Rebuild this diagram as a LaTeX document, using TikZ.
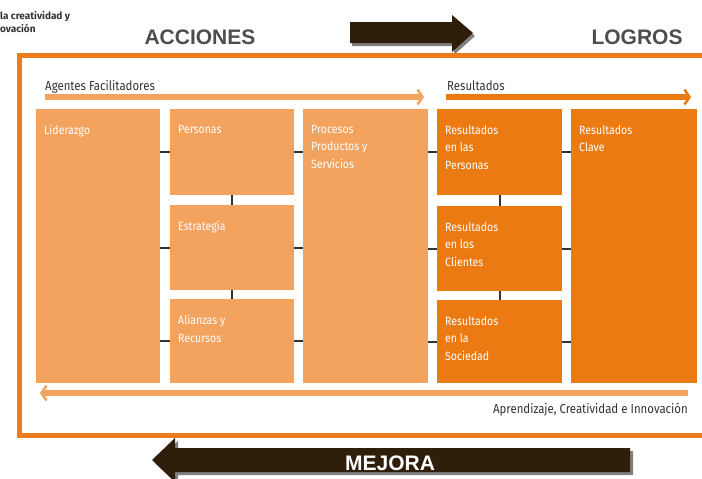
\documentclass[tikz,border=0pt]{standalone}
\usepackage{fontspec}
\setmainfont{Fira Sans}
\newfontfamily\headfont{Liberation Sans}
\newfontfamily\narrowfont[FakeStretch=0.88]{Fira Sans}
\usetikzlibrary{arrows.meta}

\definecolor{lightor}{HTML}{F3A35E}
\definecolor{darkor}{HTML}{EB7A12}
\definecolor{frameor}{HTML}{EC7C1C}
\definecolor{brownar}{HTML}{2E1E0A}
\definecolor{headgray}{HTML}{4D4D4D}

\begin{document}
\begin{tikzpicture}[x=1pt,y=-1pt,
  boxA/.style={fill=lightor,anchor=north west,inner sep=0pt,outer sep=0pt},
  boxB/.style={fill=darkor,anchor=north west,inner sep=0pt,outer sep=0pt},
  boxtxt/.style={anchor=north west,inner sep=0pt,xshift=8pt,yshift=-16pt,
    text=white,align=left,font=\narrowfont\fontsize{12}{17.5}\selectfont},
  headtxt/.style={anchor=base,inner sep=0pt,text=headgray,
    font=\headfont\bfseries\fontsize{21}{25}\selectfont},
  flowtxt/.style={inner sep=0pt,text=black!80,
    font=\narrowfont\fontsize{13}{15}\selectfont},
  tick/.style={draw=black!80,line width=2pt},
  flow/.style={line width=5.5pt,
    -{Straight Barb[length=5pt,width=15pt,line width=2.5pt]}}]

\useasboundingbox (0,0) rectangle (702,479);
\clip (0,0) rectangle (702,479);

\def\bw{124}

%====================================================
% Header
%====================================================
\node[anchor=north west,inner sep=0pt,align=left,text=black!80,
  font=\bfseries\fontsize{10}{13}\selectfont] (cut) at (0,11)
  {la creatividad y\\ovación};

\node[headtxt] (acc) at (200,45) {ACCIONES};
\node[headtxt] (log) at (637,45) {LOGROS};

% Black arrow to the right
\fill[black!50] ([shift={(2,3)}]350,22) -- ++(102,0) -- ++(0,-7)
  -- ++(21,18) -- ++(-21,19) -- ++(0,-9) -- ++(-102,0) -- cycle;
\fill[brownar] (350,22) -- (452,22) -- (452,15) -- (473,33)
  -- (452,52) -- (452,43) -- (350,43) -- cycle;

%====================================================
% Frame
%====================================================
\draw[frameor,line width=5pt] (19,55) rectangle (720,435);

% Top flows
\coordinate (agA) at (45,97);
\coordinate (agB) at (424,97);
\coordinate (reA) at (446,97);
\coordinate (reB) at (691,97);

\draw[flow,lightor] (agA) -- (agB);
\draw[flow,darkor] (reA) -- (reB);
\node[flowtxt,anchor=base west] (agT) at (45,90) {Agentes Facilitadores};
\node[flowtxt,anchor=base west] (reT) at (447,90) {Resultados};

%====================================================
% Agentes
%====================================================
\node[boxA,minimum width=\bw,minimum height=274] (lid) at (36,109) {};
\node[boxA,minimum width=\bw,minimum height=86] (per) at (170,109) {};
\node[boxA,minimum width=\bw,minimum height=85] (est) at (170,205) {};
\node[boxA,minimum width=\bw,minimum height=84] (ali) at (170,299) {};
\node[boxA,minimum width=125,minimum height=274] (pro) at (303,109) {};

\node[boxtxt] (lidT) at (lid.north west) {Liderazgo};
\node[boxtxt] (perT) at (per.north west) {Personas};
\node[boxtxt] (estT) at (est.north west) {Estrategia};
\node[boxtxt] (aliT) at (ali.north west) {Alianzas y\\Recursos};
\node[boxtxt] (proT) at (pro.north west) {Procesos\\Productos y\\Servicios};

%====================================================
% Resultados
%====================================================
\node[boxB,minimum width=125,minimum height=86] (rper) at (437,109) {};
\node[boxB,minimum width=125,minimum height=85] (rcli) at (437,206) {};
\node[boxB,minimum width=125,minimum height=83] (rsoc) at (437,300) {};
\node[boxB,minimum width=126,minimum height=274] (rcla) at (571,109) {};

\node[boxtxt] (rperT) at (rper.north west) {Resultados\\en las\\Personas};
\node[boxtxt] (rcliT) at (rcli.north west) {Resultados\\en los\\Clientes};
\node[boxtxt] (rsocT) at (rsoc.north west) {Resultados\\en la\\Sociedad};
\node[boxtxt] (rclaT) at (rcla.north west) {Resultados\\Clave};

%====================================================
% Links
%====================================================
\foreach \b in {per,est,ali}{
  \draw[tick] (lid.east |- \b.west) -- (\b.west);
  \draw[tick] (\b.east) -- (pro.west |- \b.west);
}
\foreach \b in {rper,rcli,rsoc}{
  \draw[tick] (pro.east |- \b.west) -- (\b.west);
  \draw[tick] (\b.east) -- (rcla.west |- \b.west);
}
\draw[tick] (per.south) -- (est.north);
\draw[tick] (est.south) -- (ali.north);
\draw[tick] (rper.south) -- (rcli.north);
\draw[tick] (rcli.south) -- (rsoc.north);

%====================================================
% Bottom flow
%====================================================
\coordinate (apA) at (688,393);
\coordinate (apB) at (40,393);
\draw[flow,lightor] (apA) -- (apB);
\node[flowtxt,anchor=base east] (apT) at (688,413)
  {Aprendizaje, Creatividad e Innovación};

% Black arrow to the left
\fill[black!50] ([shift={(3,3)}]152,460) -- ++(23,-22) -- ++(0,10)
  -- ++(455,0) -- ++(0,24) -- ++(-455,0) -- ++(0,10) -- cycle;
\fill[brownar] (152,460) -- (175,438) -- (175,448) -- (630,448)
  -- (630,472) -- (175,472) -- (175,482) -- cycle;
\node[headtxt,text=white] (mej) at (390,470) {MEJORA};

\end{tikzpicture}
\end{document}
